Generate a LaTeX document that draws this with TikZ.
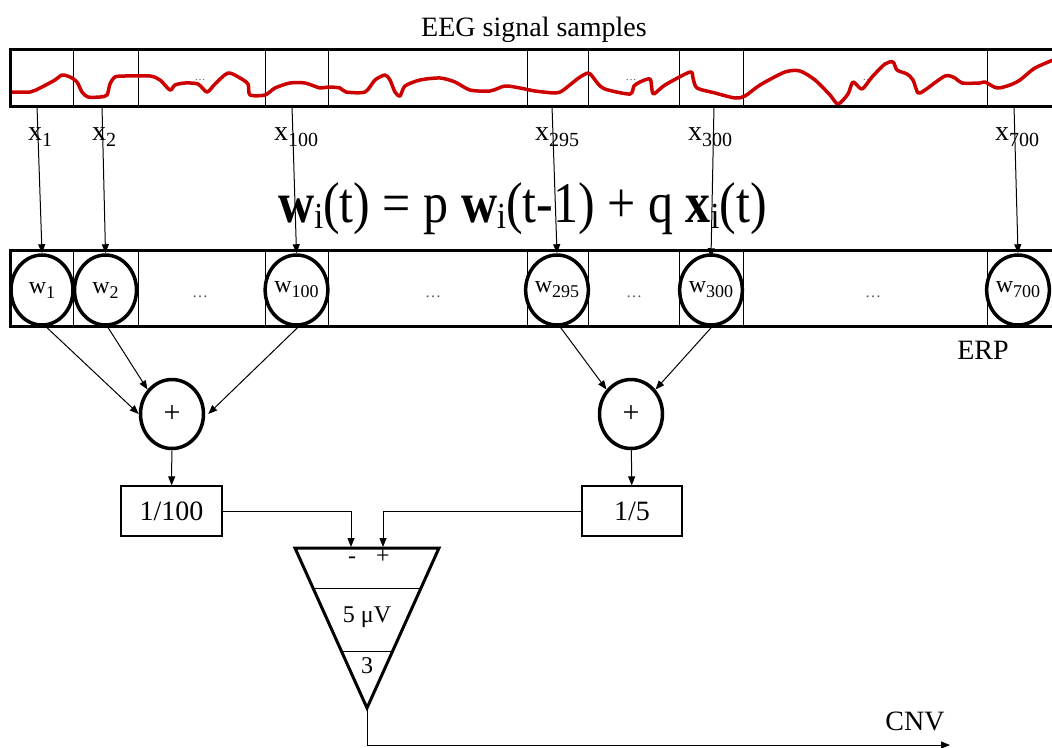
\documentclass[tikz,border=0pt]{standalone}
\usepackage{fontspec}
\setmainfont{Liberation Serif}
\usetikzlibrary{arrows.meta,shapes.geometric}
\definecolor{sigred}{RGB}{204,0,0}
\definecolor{dotgray}{RGB}{90,90,90}
\newcommand{\subx}[1]{\raisebox{-6pt}{\fontsize{20}{21}\selectfont #1}}
\newcommand{\subw}[1]{\raisebox{-5pt}{\fontsize{18}{19}\selectfont #1}}
\newcommand{\subf}[1]{\raisebox{-6pt}{\fontsize{32}{33}\selectfont #1}}
\begin{document}
\begin{tikzpicture}[x=1pt,y=-1pt,
  thickl/.style={line width=3pt},
  thinl/.style={line width=1pt},
  arr/.style={line width=1pt,-{Triangle[length=9pt,width=7pt]}},
  wnode/.style={ellipse,draw,line width=3.5pt,minimum width=62pt,minimum height=70pt,inner sep=0pt,fill=white,font=\fontsize{24}{26}\selectfont},
  pnode/.style={ellipse,draw,line width=3.5pt,minimum width=63pt,minimum height=69pt,inner sep=0pt,fill=white,font=\fontsize{30}{32}\selectfont},
  bnode/.style={rectangle,draw,line width=1.2pt,minimum height=50pt,inner sep=0pt,font=\fontsize{28}{30}\selectfont},
  lab/.style={anchor=base west,inner sep=0pt,font=\fontsize{28}{30}\selectfont},
  txt/.style={inner sep=0pt,font=\fontsize{28}{30}\selectfont},
  dots/.style={inner sep=0pt,text=dotgray,font=\fontsize{16}{18}\selectfont},
  sdots/.style={inner sep=0pt,text=dotgray,font=\fontsize{11}{12}\selectfont},
  sig/.style={line width=3.5pt,sigred,line join=round,line cap=round}
]
\clip (0,0) rectangle (1052,747);
\fill[white] (0,0) rectangle (1052,747);

% title
\node[txt,anchor=base] (title) at (534,36) {EEG signal samples};

% top signal box
\foreach \x in {73,138,265,328,527,588,679,743,987}
  \draw[thinl] (\x,49) -- (\x,106);
\node[sdots] (d1) at (200,80) {\dots};
\node[sdots] (d2) at (428,80) {\dots};
\node[sdots] (d3) at (631,80) {\dots};
\node[sdots] (d4) at (868,80) {\dots};
\draw[sig] plot[smooth,tension=0.45] coordinates {
 (12,92) (30,92) (40,88) (55,80) (62,75) (70,77) (77,82) (82,92) (88,97) (100,97)
 (107,95) (110,84) (115,77) (125,76) (150,76) (160,80) (170,90) (175,85) (185,83)
 (198,84) (207,92) (215,84) (228,73) (240,78) (248,84) (250,95) (265,95) (275,88)
 (290,83) (305,83) (320,88) (328,87) (340,88) (346,92) (365,92) (375,80) (385,75)
 (390,80) (395,92) (400,96) (405,86) (420,80) (440,78) (455,82) (470,90) (490,91)
 (505,86) (520,88) (535,91) (555,93) (562,91) (571,84) (580,77) (588,73) (592,76)
 (600,86) (608,90) (630,94) (634,86) (640,82) (650,79) (652,90) (654,94) (665,85)
 (690,72) (693,78) (697,88) (715,93) (735,98) (745,96) (760,85) (785,72) (800,71)
 (815,80) (830,95) (838,104) (848,94) (853,82) (862,89) (872,77) (885,64) (893,62)
 (897,70) (907,74) (913,80) (918,93) (925,90) (945,76) (955,78) (962,83) (980,83)
 (985,82) (997,88) (1010,85) (1020,80) (1035,68) (1058,58)};
\draw[thickl] (10,49) rectangle (1070,106);

% x labels
\node[lab] (lx1) at (28,140) {x\subx{1}};
\node[lab] (lx2) at (92,140) {x\subx{2}};
\node[lab] (lx100) at (274,140) {x\subx{100}};
\node[lab] (lx295) at (535,140) {x\subx{295}};
\node[lab] (lx300) at (688,140) {x\subx{300}};
\node[lab] (lx700) at (995,140) {x\subx{700}};

% formula
\node[anchor=base west,inner sep=0pt,font=\fontsize{50}{52}\selectfont] (formula) at (278,222)
  {\scalebox{1}[1.15]{\textbf{w}\subf{i}(t) = p \textbf{w}\subf{i}(t-1) + q \textbf{x}\subf{i}(t)}};

% ERP box
\foreach \x in {73,138,265,328,527,588,679,743,987}
  \draw[thinl] (\x,250) -- (\x,326);
\draw[thickl] (10,250) rectangle (1070,326);
\node[dots] (e1) at (200,297) {\dots};
\node[dots] (e2) at (433,297) {\dots};
\node[dots] (e3) at (634,297) {\dots};
\node[dots] (e4) at (873,297) {\dots};

\node[wnode] (w1) at (42,290) {w\subw{1}};
\node[wnode] (w2) at (105.5,290) {w\subw{2}};
\node[wnode] (w100) at (296.5,290) {w\subw{100}};
\node[wnode] (w295) at (557,290) {w\subw{295}};
\node[wnode] (w300) at (711,290) {w\subw{300}};
\node[wnode] (w700) at (1018,290) {w\subw{700}};

\node[txt,anchor=base] (erp) at (983,359) {ERP};

% sample -> weight arrows
\coordinate (s1) at (37,106);
\coordinate (s2) at (102,106);
\coordinate (s100) at (292,106);
\coordinate (s295) at (552,106);
\coordinate (s300) at (714,106);
\coordinate (s700) at (1014,106);
\draw[arr] (s1) -- (w1.north);
\draw[arr] (s2) -- (w2.north);
\draw[arr] (s100) -- (w100.north);
\draw[arr] (s295) -- (w295.north);
\draw[arr] (s300) -- ([yshift=-4pt]w300.north);
\draw[arr] (s700) -- (w700.north);

% adders
\node[pnode] (p1) at (172,414) {+};
\node[pnode] (p2) at (631,414) {+};
\draw[arr] ([xshift=4pt]w1.south) -- (p1.west);
\draw[arr] ([xshift=2pt]w2.south) -- (p1.135);
\draw[arr] ([xshift=2pt]w100.south) -- ([xshift=3pt]p1.east);
\draw[arr] ([xshift=3pt]w295.south) -- (p2.135);
\draw[arr] ([xshift=1pt]w300.south) -- (p2.45);

% scaling boxes
\node[bnode,minimum width=101pt] (b1) at (171.5,511) {1/100};
\node[bnode,minimum width=100pt] (b2) at (632,511) {1/5};
\draw[arr] (p1) -- (b1);
\draw[arr] (p2) -- (b2);

% comparator triangle
\coordinate (tl) at (295,548);
\coordinate (tr) at (439,548);
\coordinate (ap) at (367,708);
\coordinate (inm) at (351,547);
\coordinate (inp) at (383,547);
\draw[arr] (b1.east) -| (inm);
\draw[arr] (b2.west) -| (inp);
\draw[thickl,line join=miter] (tl) -- (tr) -- (ap) -- cycle;
\draw[thinl] (313,588) -- (421,588);
\draw[thinl] (341,651) -- (393,651);
\node[inner sep=0pt,font=\fontsize{24}{26}\selectfont] (minus) at (352,560) {-};
\node[inner sep=0pt,font=\fontsize{24}{26}\selectfont] (plus) at (383,557) {+};
\node[inner sep=0pt,anchor=base,font=\fontsize{24}{26}\selectfont] (thr) at (367,622) {5 μV};
\node[inner sep=0pt,anchor=base,font=\fontsize{24}{26}\selectfont] (three) at (367,673) {3};

% output
\coordinate (out) at (950,745);
\draw[arr] (ap) |- (out);
\node[txt,anchor=base] (cnv) at (915,730) {CNV};
\end{tikzpicture}
\end{document}
